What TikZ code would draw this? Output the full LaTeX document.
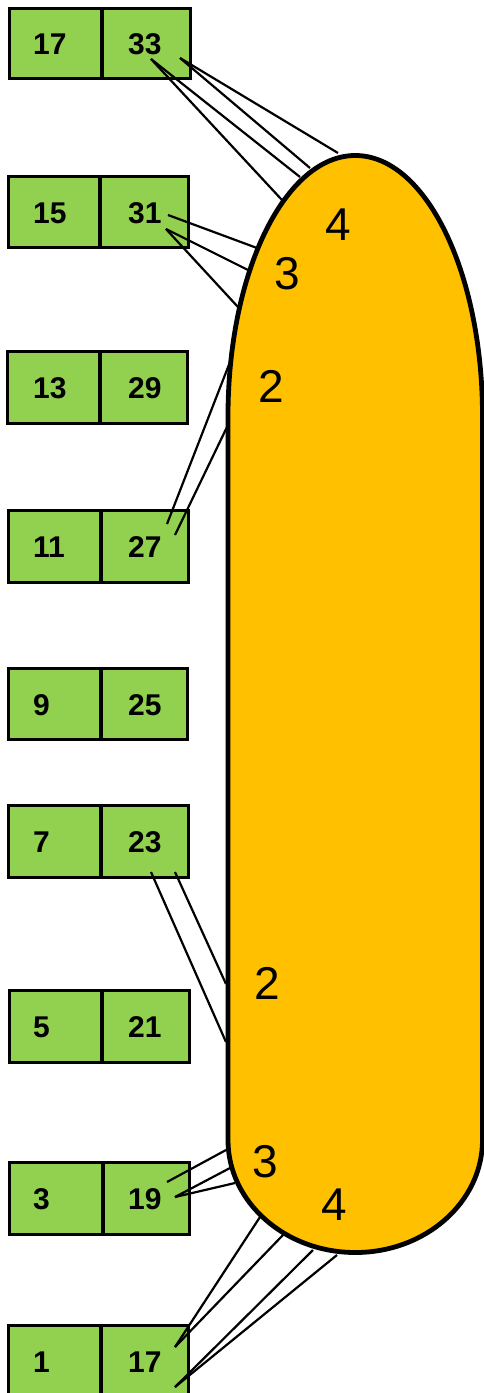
\documentclass[tikz,border=0pt]{standalone}
\usepackage{fontspec}
\setmainfont{Liberation Sans}
\definecolor{cellgreen}{HTML}{92D050}
\definecolor{capsulefill}{HTML}{FFC000}
\tikzset{
  cellbox/.style={rectangle, draw=black, line width=3.3pt, fill=cellgreen, inner sep=0pt, outer sep=0pt, anchor=north west},
  numtext/.style={font=\bfseries\fontsize{30}{30}\selectfont, inner sep=0pt, anchor=west},
  biglabel/.style={font=\fontsize{46}{46}\selectfont, inner sep=0pt},
  capsuleline/.style={draw=black, line width=4.8pt, fill=capsulefill},
  conn/.style={draw=black, line width=2.2pt}
}
% #1 id, #2 left, #3 divider, #4 right, #5 top, #6 height, #7 left number, #8 right number
\newcommand{\cellpair}[8]{%
  \node[cellbox, minimum width={(#3-#2)*1pt}, minimum height={#6*1pt}] (L#1) at (#2,#5) {};
  \node[cellbox, minimum width={(#4-#3)*1pt}, minimum height={#6*1pt}] (R#1) at (#3,#5) {};
  \node[numtext] (nl#1) at (33,{#5+#6/2+1}) {#7};
  \node[numtext] (nr#1) at (128,{#5+#6/2+1}) {#8};
}
\begin{document}
\begin{tikzpicture}[x=1pt,y=-1pt]
\useasboundingbox (0,0) rectangle (484,1393);

% capsule
\path[capsuleline] (228,416) -- (228,1140)
  .. controls (228,1202.1) and (285.1,1252.5) .. (355.3,1252.5)
  .. controls (425.5,1252.5) and (482.5,1202.1) .. (482.5,1140)
  -- (482.5,416)
  .. controls (482.5,272.1) and (425.5,155.5) .. (355.3,155.5)
  .. controls (285.1,155.5) and (228,272.1) .. (228,416) -- cycle;

\node[biglabel] (c4a) at (338,225) {4};
\node[biglabel] (c3a) at (287.5,274) {3};
\node[biglabel] (c2a) at (271,386) {2};
\node[biglabel] (c2b) at (267,983) {2};
\node[biglabel] (c3b) at (265.5,1162) {3};
\node[biglabel] (c4b) at (334.5,1204.5) {4};

% boxes
\cellpair{1}{9.5}{102}{190.5}{8.5}{70}{17}{33}
\cellpair{2}{8.5}{100}{188.5}{176.5}{71}{15}{31}
\cellpair{3}{7.5}{100}{187.5}{351.5}{72}{13}{29}
\cellpair{4}{8.5}{101}{188.5}{510.5}{72}{11}{27}
\cellpair{5}{8.5}{101}{187.5}{668.5}{71}{9}{25}
\cellpair{6}{8.5}{101}{188.5}{805.5}{72}{7}{23}
\cellpair{7}{9.5}{102}{189.5}{990.5}{72}{5}{21}
\cellpair{8}{9.5}{103}{189.5}{1162.5}{72}{3}{19}
\cellpair{9}{8.5}{101}{188.5}{1325.5}{71}{1}{17}

% connector end points
\coordinate (s1a) at (180,58);   \coordinate (s1b) at (151,59);
\coordinate (e1a) at (338,153);  \coordinate (e1b) at (310,168);
\coordinate (e1c) at (300,177);  \coordinate (e1d) at (282,200);
\coordinate (s2a) at (168,215);  \coordinate (s2b) at (166,229);
\coordinate (e2a) at (257,248);  \coordinate (e2b) at (250,271);
\coordinate (e2c) at (238,307);
\coordinate (s4a) at (167,524);  \coordinate (s4b) at (175,535);
\coordinate (e4a) at (230,362);  \coordinate (e4b) at (227,427);
\coordinate (s6a) at (175,872);  \coordinate (s6b) at (151,872);
\coordinate (e6a) at (226,984);  \coordinate (e6b) at (226,1042);
\coordinate (s8a) at (167,1182); \coordinate (s8b) at (175,1197);
\coordinate (e8a) at (226,1150); \coordinate (e8b) at (230,1168);
\coordinate (e8c) at (235,1183);
\coordinate (s9a) at (175,1347); \coordinate (s9b) at (175,1387);
\coordinate (e9a) at (260,1217); \coordinate (e9b) at (283,1235);
\coordinate (e9c) at (313,1250); \coordinate (e9d) at (337,1255);

\draw[conn] (s1a) -- (e1a);
\draw[conn] (s1a) -- (e1b);
\draw[conn] (s1b) -- (e1c);
\draw[conn] (s1b) -- (e1d);
\draw[conn] (s2a) -- (e2a);
\draw[conn] (s2b) -- (e2b);
\draw[conn] (s2b) -- (e2c);
\draw[conn] (s4a) -- (e4a);
\draw[conn] (s4b) -- (e4b);
\draw[conn] (s6a) -- (e6a);
\draw[conn] (s6b) -- (e6b);
\draw[conn] (s8a) -- (e8a);
\draw[conn] (s8b) -- (e8b);
\draw[conn] (s8b) -- (e8c);
\draw[conn] (s9a) -- (e9a);
\draw[conn] (s9a) -- (e9b);
\draw[conn] (s9b) -- (e9c);
\draw[conn] (s9b) -- (e9d);
\end{tikzpicture}
\end{document}
